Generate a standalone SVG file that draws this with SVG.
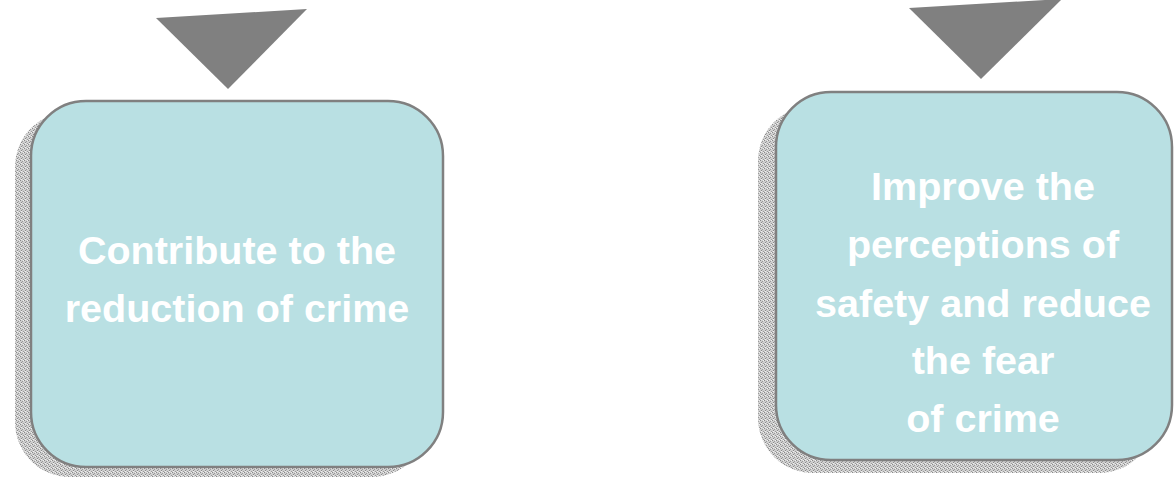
<svg xmlns="http://www.w3.org/2000/svg" width="1174" height="478" viewBox="0 0 1174 478">
<style>
.box{fill:#b9e0e3;stroke:#808080;stroke-width:2.5}
.shadow{fill:url(#dither)}
.tri{fill:#808080}
.lbl{font-family:"Liberation Sans",Arial,sans-serif;font-weight:bold;font-size:39.5px;fill:#ffffff;text-anchor:middle}
</style>
<defs>
<pattern id="dither" width="4" height="4" patternUnits="userSpaceOnUse">
<rect width="4" height="4" fill="#cfcfcf"/>
<rect x="0" y="0" width="1" height="1" fill="#8a8a8a"/>
<rect x="2" y="1" width="1" height="1" fill="#9a9a9a"/>
<rect x="1" y="2" width="1" height="1" fill="#8a8a8a"/>
<rect x="3" y="3" width="1" height="1" fill="#9a9a9a"/>
<rect x="3" y="0" width="1" height="1" fill="#f0f0f0"/>
<rect x="1" y="3" width="1" height="1" fill="#f0f0f0"/>
</pattern>
</defs>
<rect width="1174" height="478" fill="#ffffff"/>
<g id="connectors">
<polygon class="tri" points="156,18 307,9 228,89"/>
<polygon class="tri" points="909,8 1062,-1 981,79"/>
</g>
<g id="node1">
<rect class="shadow" x="15" y="112" width="412" height="365" rx="55" ry="55"/>
<rect class="box" x="31" y="101" width="412" height="366" rx="55" ry="55"/>
<text class="lbl" x="237" y="264">Contribute to the</text>
<text class="lbl" x="237" y="322">reduction of crime</text>
</g>
<g id="node2">
<rect class="shadow" x="758" y="106" width="396" height="367" rx="55" ry="55"/>
<rect class="box" x="776" y="92" width="396" height="368" rx="55" ry="55"/>
<text class="lbl" x="983" y="200">Improve the</text>
<text class="lbl" x="983" y="258">perceptions of</text>
<text class="lbl" x="983" y="317">safety and reduce</text>
<text class="lbl" x="983" y="374">the fear</text>
<text class="lbl" x="983" y="432">of crime</text>
</g>
</svg>
